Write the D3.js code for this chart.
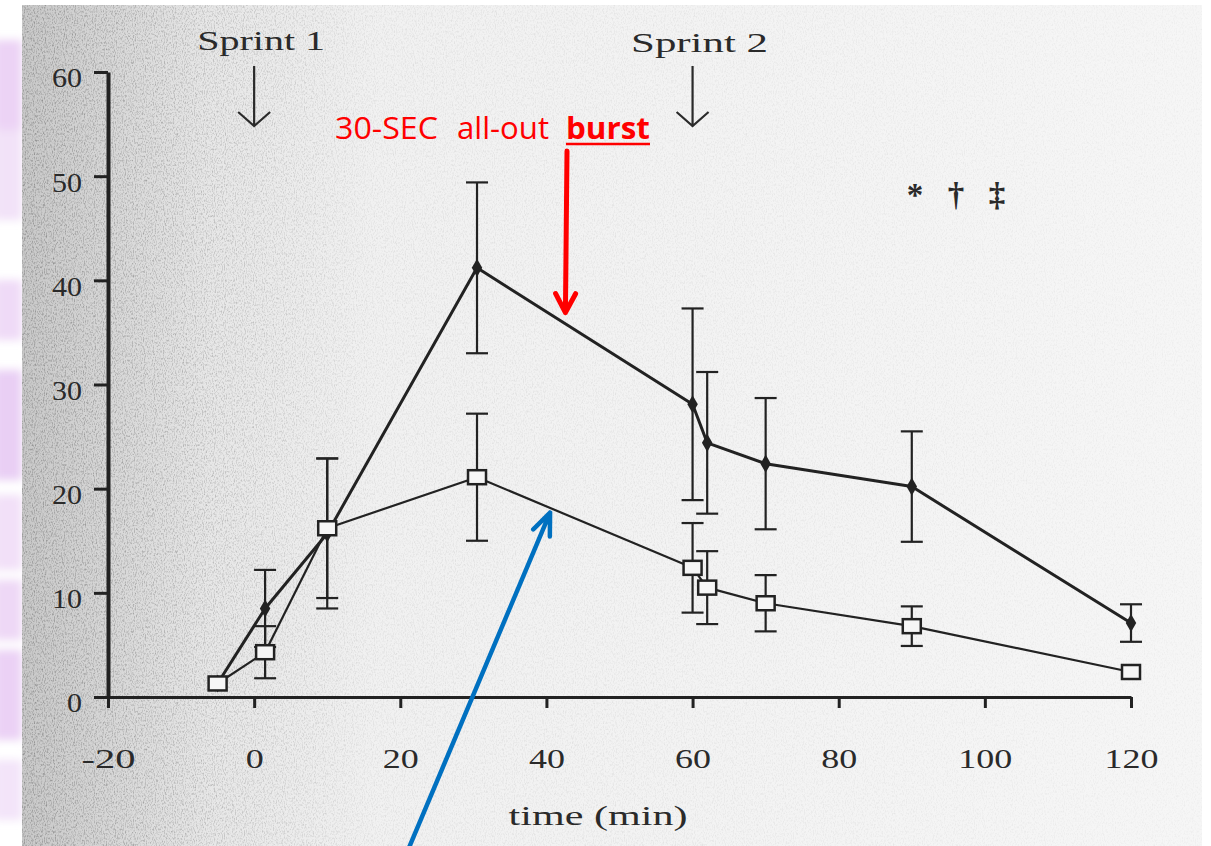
<!DOCTYPE html>
<html>
<head>
<meta charset="utf-8">
<script src="https://cdn.jsdelivr.net/npm/d3@7"></script>
<style>
  body { margin: 0; background: #fff; }
  svg { display: block; }
</style>
</head>
<body>
<script>
// values
var times     = [-5, 1.5, 10, 30.5, 60, 62, 70, 90, 120];
var burstMean = [1.3, 8.5, 15.7, 41.2, 28.1, 24.4, 22.4, 20.2, 7.1];
var burstErr  = [0, 3.7, 7.2, 8.2, 9.2, 6.8, 6.3, 5.3, 1.8];
var ctrlMean  = [1.3, 4.3, 16.2, 21.1, 12.4, 10.5, 9.0, 6.8, 2.4];
var ctrlErr   = [0, 2.5, 6.7, 6.1, 4.3, 3.5, 2.7, 1.9, 0];

var xTicks = [-20, 0, 20, 40, 60, 80, 100, 120];
var yTicks = [0, 10, 20, 30, 40, 50, 60];

var sprints = [{ label: "Sprint 1", t: 0 }, { label: "Sprint 2", t: 60 }];
var marks = ["*", "\u2020", "\u2021"];
var xTitle = "time (min)";

var W = 1211, H = 846;
var serif = "'Times New Roman', 'Liberation Serif', serif";
var ink = "#222";
var textInk = "#2a2a2a";

var svg = d3.select("body").append("svg")
    .attr("width", W)
    .attr("height", H);

var defs = svg.append("defs");

var paper = defs.append("linearGradient").attr("id", "paper")
    .attr("x1", 0).attr("x2", 1).attr("y1", 0).attr("y2", 0);
[[0, "#c8c8c8"], [0.07, "#d6d6d6"], [0.16, "#e7e7e7"], [0.3, "#f1f1f1"], [1, "#f6f6f6"]]
    .forEach(function (s) {
        paper.append("stop").attr("offset", s[0]).attr("stop-color", s[1]);
    });

var fade = defs.append("linearGradient").attr("id", "fade")
    .attr("x1", 0).attr("x2", 1).attr("y1", 0).attr("y2", 0);
[[0, "#fff"], [0.12, "#aaa"], [0.3, "#333"], [1, "#151515"]]
    .forEach(function (s) {
        fade.append("stop").attr("offset", s[0]).attr("stop-color", s[1]);
    });
defs.append("mask").attr("id", "fadeMask")
    .append("rect").attr("x", 22).attr("y", 5).attr("width", 1183).attr("height", 841)
    .attr("fill", "url(#fade)");

var grain = defs.append("filter").attr("id", "grain")
    .attr("x", 0).attr("y", 0).attr("width", 1).attr("height", 1);
grain.append("feTurbulence")
    .attr("type", "fractalNoise")
    .attr("baseFrequency", "0.9 0.45")
    .attr("numOctaves", 2)
    .attr("seed", 4);
grain.append("feColorMatrix")
    .attr("type", "matrix")
    .attr("values", "0 0 0 0 0.25  0 0 0 0 0.25  0 0 0 0 0.25  2.2 0 0 0 -1.0");

var blur = defs.append("filter").attr("id", "soft")
    .attr("x", -0.5).attr("y", -0.2).attr("width", 2).attr("height", 1.4);
blur.append("feGaussianBlur").attr("stdDeviation", 4);

// purple strip on the left edge of the slide
var strip = [[40, 130, "#ecd3f5"], [130, 90, "#f2e2f8"], [280, 60, "#efdaf7"], [370, 110, "#e9cff4"],
             [495, 75, "#f2e0f8"], [580, 60, "#eed8f6"], [650, 90, "#ebd1f5"], [760, 60, "#f3e4f9"]];
svg.append("g").attr("filter", "url(#soft)")
    .selectAll("rect").data(strip).enter().append("rect")
    .attr("x", -6).attr("width", 28)
    .attr("y", function (d) { return d[0]; })
    .attr("height", function (d) { return d[1]; })
    .attr("fill", function (d) { return d[2]; });

// scanned paper
svg.append("rect").attr("x", 22).attr("y", 5).attr("width", 1180).attr("height", 841)
    .attr("fill", "url(#paper)");
svg.append("rect").attr("x", 22).attr("y", 5).attr("width", 1180).attr("height", 841)
    .attr("fill", "#888")
    .attr("filter", "url(#grain)")
    .attr("mask", "url(#fadeMask)");

var x = d3.scaleLinear().domain([-20, 120]).range([108, 1131]);
var y = d3.scaleLinear().domain([0, 60]).range([697, 72]);

function fixWidth(sel, perChar) {
    sel.attr("textLength", function () { return this.textContent.length * perChar; })
        .attr("lengthAdjust", "spacingAndGlyphs");
}

// axes
var gx = svg.append("g")
    .attr("transform", "translate(0," + y(0) + ")")
    .call(d3.axisBottom(x).tickValues(xTicks).tickSize(11).tickSizeOuter(0)
        .tickFormat(function (d) { return String(d); }));
gx.select(".domain").attr("stroke", ink).attr("stroke-width", 3);
gx.selectAll(".tick line").attr("stroke", ink).attr("stroke-width", 3);
gx.selectAll(".tick text")
    .attr("y", 71).attr("dy", 0)
    .attr("fill", textInk)
    .style("font-family", serif)
    .style("font-size", "27px")
    .call(fixWidth, 18);

var gy = svg.append("g")
    .attr("transform", "translate(" + x(-20) + ",0)")
    .call(d3.axisLeft(y).tickValues(yTicks).tickSize(14).tickSizeOuter(0)
        .tickFormat(function (d) { return String(d); }));
gy.select(".domain").attr("stroke", ink).attr("stroke-width", 4);
gy.selectAll(".tick line").attr("stroke", ink).attr("stroke-width", 3);
gy.selectAll(".tick text")
    .attr("x", -26).attr("dy", "0.55em")
    .attr("fill", textInk)
    .style("font-family", serif)
    .style("font-size", "27px")
    .call(fixWidth, 15);

svg.append("text")
    .attr("x", 598).attr("y", 825)
    .attr("text-anchor", "middle")
    .attr("fill", textInk)
    .style("font-family", serif)
    .style("font-size", "27px")
    .attr("textLength", 179).attr("lengthAdjust", "spacingAndGlyphs")
    .text(xTitle);

// series
var idx = d3.range(times.length);

function drawSeries(mean, err, width) {
    var line = d3.line()
        .x(function (i) { return x(times[i]); })
        .y(function (i) { return y(mean[i]); });
    svg.append("path")
        .datum(idx)
        .attr("d", line)
        .attr("fill", "none")
        .attr("stroke", ink)
        .attr("stroke-width", width)
        .attr("stroke-linejoin", "round");

    var bars = svg.append("g")
        .attr("stroke", ink)
        .attr("stroke-width", 2.2)
        .selectAll("g")
        .data(idx.filter(function (i) { return err[i] > 0; }))
        .enter().append("g");
    bars.append("line")
        .attr("x1", function (i) { return x(times[i]); })
        .attr("x2", function (i) { return x(times[i]); })
        .attr("y1", function (i) { return y(mean[i] - err[i]); })
        .attr("y2", function (i) { return y(mean[i] + err[i]); });
    [1, -1].forEach(function (s) {
        bars.append("line")
            .attr("x1", function (i) { return x(times[i]) - 11; })
            .attr("x2", function (i) { return x(times[i]) + 11; })
            .attr("y1", function (i) { return y(mean[i] + s * err[i]); })
            .attr("y2", function (i) { return y(mean[i] + s * err[i]); });
    });
}

drawSeries(burstMean, burstErr, 3);
drawSeries(ctrlMean, ctrlErr, 2.2);

svg.append("g").selectAll("path")
    .data(idx)
    .enter().append("path")
    .attr("d", d3.symbol().type(d3.symbolDiamond).size(95))
    .attr("transform", function (i) { return "translate(" + x(times[i]) + "," + y(burstMean[i]) + ")"; })
    .attr("fill", ink);

svg.append("g").selectAll("rect")
    .data(idx)
    .enter().append("rect")
    .attr("x", function (i) { return x(times[i]) - 9; })
    .attr("y", function (i) { return y(ctrlMean[i]) - 7; })
    .attr("width", 18)
    .attr("height", 14)
    .attr("fill", "#f6f6f6")
    .attr("stroke", ink)
    .attr("stroke-width", 2.5);

// sprint labels and arrows
var sp = svg.append("g").selectAll("g").data(sprints).enter().append("g");
sp.append("text")
    .attr("x", function (d) { return x(d.t) + 7; })
    .attr("y", function (d, i) { return 50 + i * 2; })
    .attr("text-anchor", "middle")
    .attr("fill", textInk)
    .style("font-family", serif)
    .style("font-size", "28px")
    .attr("textLength", function (d, i) { return i ? 137 : 128; })
    .attr("lengthAdjust", "spacingAndGlyphs")
    .text(function (d) { return d.label; });
sp.append("path")
    .attr("d", function (d) {
        var cx = x(d.t);
        return "M" + cx + ",66V126M" + (cx - 16) + ",112L" + cx + ",126L" + (cx + 16) + ",112";
    })
    .attr("fill", "none")
    .attr("stroke", textInk)
    .attr("stroke-width", 2.2);

// significance marks
svg.append("g").selectAll("text")
    .data(marks)
    .enter().append("text")
    .attr("x", function (d, i) { return 915 + i * 41; })
    .attr("y", 206)
    .attr("text-anchor", "middle")
    .attr("fill", textInk)
    .style("font-family", serif)
    .style("font-size", "33px")
    .style("font-weight", "bold")
    .text(function (d) { return d; });

// red annotation
var red = "#ff0000";
var note = svg.append("g")
    .attr("fill", red)
    .style("font-family", "'Open Sans', 'Noto Sans', sans-serif")
    .style("font-size", "31px");
note.append("text").attr("x", 335).attr("y", 139)
    .attr("textLength", 103).attr("lengthAdjust", "spacingAndGlyphs").text("30-SEC");
note.append("text").attr("x", 457).attr("y", 139)
    .attr("textLength", 92).attr("lengthAdjust", "spacingAndGlyphs").text("all-out");
note.append("text").attr("x", 566).attr("y", 139)
    .style("font-weight", "bold")
    .attr("textLength", 84).attr("lengthAdjust", "spacingAndGlyphs").text("burst");
svg.append("line")
    .attr("x1", 566).attr("x2", 650).attr("y1", 144).attr("y2", 144)
    .attr("stroke", red).attr("stroke-width", 2.5);

function arrow(x0, y0, x1, y1, color, width, head, spread) {
    var dx = x1 - x0, dy = y1 - y0, len = Math.sqrt(dx * dx + dy * dy);
    var ux = dx / len, uy = dy / len;
    var bx = x1 - ux * head, by = y1 - uy * head;
    var px = -uy * spread, py = ux * spread;
    svg.append("path")
        .attr("d", "M" + x0 + "," + y0 + "L" + x1 + "," + y1 +
            "M" + (bx + px) + "," + (by + py) + "L" + x1 + "," + y1 + "L" + (bx - px) + "," + (by - py))
        .attr("fill", "none")
        .attr("stroke", color)
        .attr("stroke-width", width)
        .attr("stroke-linecap", "round")
        .attr("stroke-linejoin", "round");
}

arrow(567, 151, x(42.6), y(36.9), red, 5, 19, 10);
arrow(408, 850, x(40.5), y(17.7), "#0070c0", 4.5, 22, 9);
</script>
</body>
</html>
